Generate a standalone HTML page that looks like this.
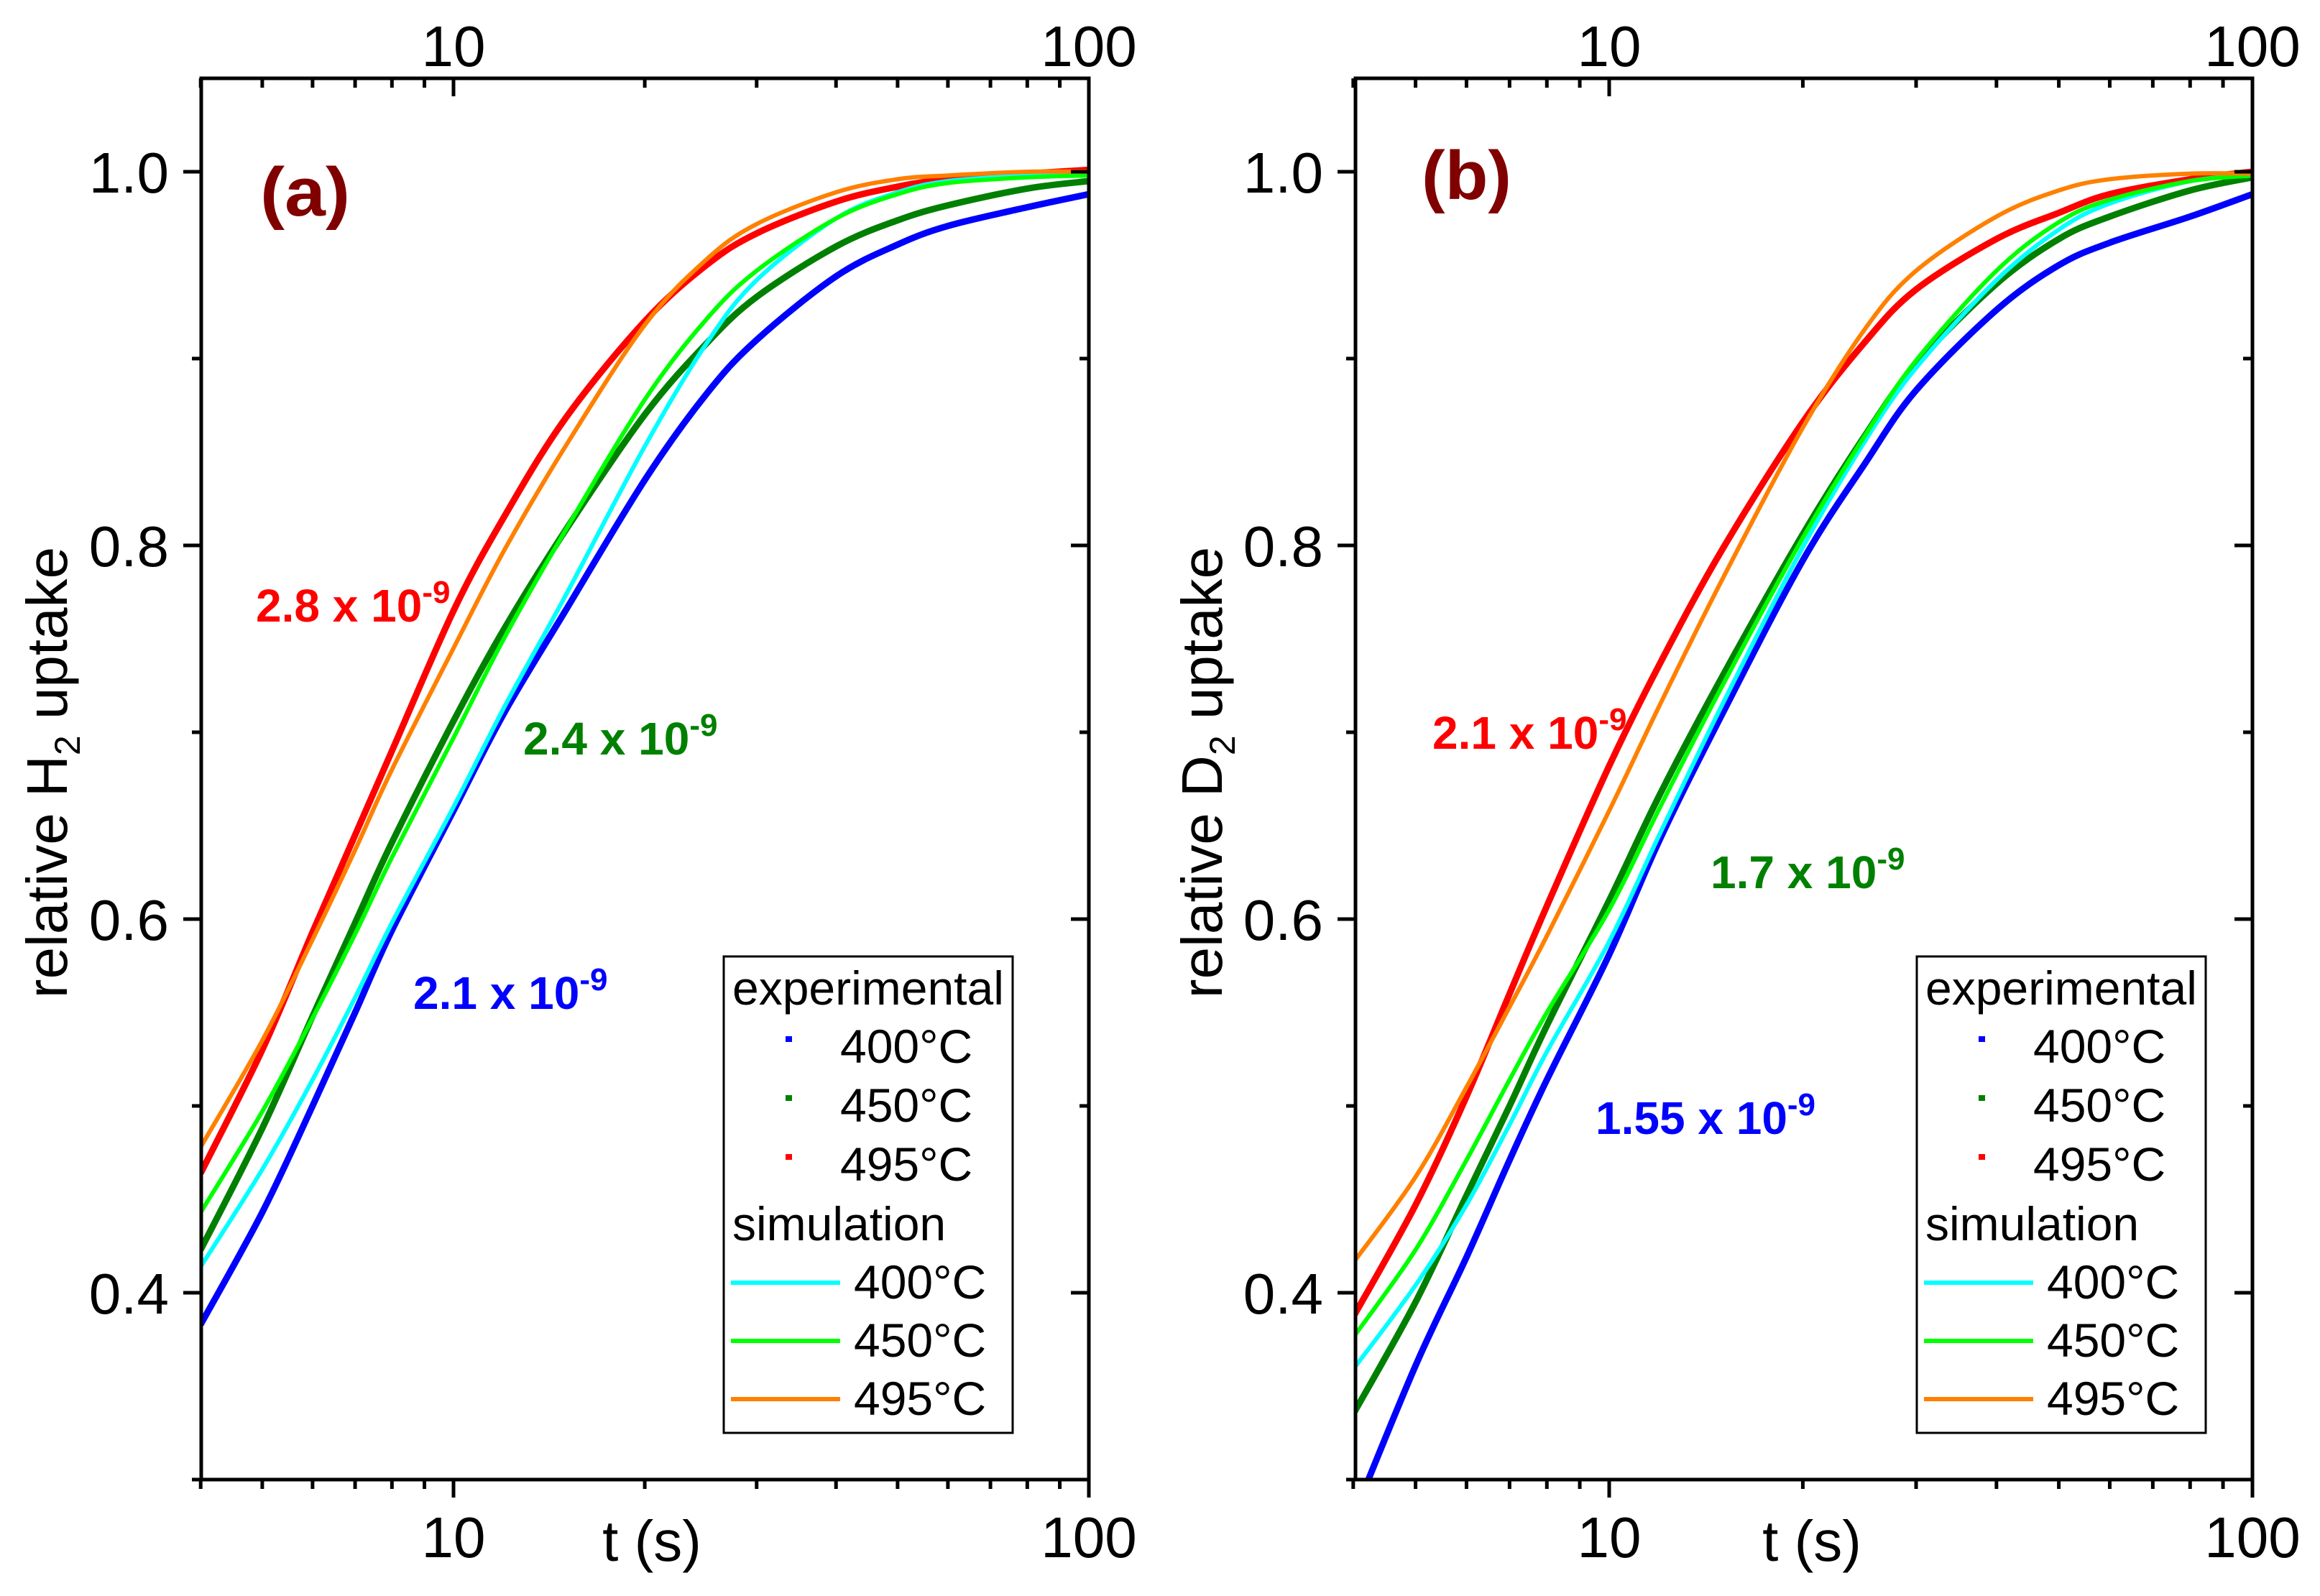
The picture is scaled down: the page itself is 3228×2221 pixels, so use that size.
<!DOCTYPE html>
<html><head><meta charset="utf-8"><style>
html,body{margin:0;padding:0;background:#fff;}
svg{display:block;font-family:"Liberation Sans",Arial,sans-serif;}
</style></head><body>
<svg id="fig" width="3228" height="2221" viewBox="0 0 3228 2221" xmlns="http://www.w3.org/2000/svg"></svg>
<script>
// ---- data ----
const tValues = [4,5,6,7,8,10,12,15,20,25,30,40,50,60,80,100];
// panel (a) H2
const aExp400 = [0.383,0.443,0.500,0.550,0.594,0.658,0.710,0.765,0.835,0.881,0.910,0.944,0.961,0.971,0.981,0.988];
const aExp450 = [0.423,0.488,0.548,0.598,0.641,0.706,0.755,0.808,0.870,0.908,0.933,0.960,0.974,0.982,0.991,0.995];
const aExp495 = [0.464,0.530,0.593,0.645,0.690,0.765,0.815,0.868,0.920,0.950,0.967,0.984,0.992,0.996,0.999,1.001];
const aSim400 = [0.414,0.466,0.514,0.558,0.598,0.660,0.713,0.773,0.853,0.908,0.942,0.975,0.989,0.995,0.998,0.999];
const aSim450 = [0.443,0.497,0.547,0.592,0.633,0.697,0.750,0.808,0.878,0.921,0.947,0.975,0.988,0.994,0.997,0.998];
const aSim495 = [0.478,0.535,0.589,0.637,0.680,0.745,0.797,0.853,0.918,0.953,0.972,0.989,0.996,0.998,1.000,1.000];
// panel (b) D2
const bExp400 = [0.280,0.361,0.419,0.471,0.514,0.581,0.643,0.710,0.792,0.844,0.883,0.926,0.950,0.962,0.976,0.988];
const bExp450 = [0.335,0.395,0.452,0.500,0.543,0.610,0.667,0.730,0.806,0.859,0.897,0.940,0.964,0.976,0.990,0.997];
const bExp495 = [0.387,0.447,0.505,0.560,0.607,0.682,0.737,0.798,0.866,0.909,0.937,0.964,0.978,0.988,0.996,1.000];
const bSim400 = [0.359,0.404,0.447,0.490,0.529,0.588,0.646,0.715,0.799,0.856,0.895,0.942,0.969,0.983,0.995,0.998];
const bSim450 = [0.376,0.423,0.471,0.514,0.550,0.605,0.660,0.725,0.804,0.859,0.899,0.947,0.973,0.985,0.995,0.998];
const bSim495 = [0.416,0.462,0.510,0.553,0.591,0.658,0.715,0.782,0.863,0.916,0.947,0.976,0.990,0.996,0.999,0.999];
const yTicks = [0.4,0.6,0.8,1.0];
const yTickLabels = ["0.4","0.6","0.8","1.0"];
const xTicks = [10,100];
const xTickLabels = ["10","100"];
const legendTemps = ["400°C","450°C","495°C"];

const NS="http://www.w3.org/2000/svg";
const svg=document.getElementById('fig');
function mk(tag,attrs,parent){const e=document.createElementNS(NS,tag);for(const k in attrs)e.setAttribute(k,attrs[k]);(parent||svg).appendChild(e);return e;}

const expCols=["#0000ff","#008000","#ff0000"];
const simCols=["#00ffff","#00ff00","#ff8000"];

function panel(P){
  const g=mk('g',{});
  
  
  const X=t=>P.x10+P.dec*Math.log10(t/10);
  const Y=v=>239+(1-v)*2600;
  const L=P.left,R=P.right,T=109,B=2059;
  const clipId='clip'+P.id;
  const cp=mk('clipPath',{id:clipId},g);mk('rect',{x:L,y:T,width:R-L,height:B-T},cp);
  function curve(vals,col,w,nm){
    const pts=tValues.map((t,i)=>[X(t),Y(vals[i])]);
    let d='M'+pts[0][0].toFixed(1)+','+pts[0][1].toFixed(1);
    for(let i=0;i<pts.length-1;i++){
      const p0=pts[Math.max(0,i-1)],p1=pts[i],p2=pts[i+1],p3=pts[Math.min(pts.length-1,i+2)];
      const c1=[p1[0]+(p2[0]-p0[0])/6,p1[1]+(p2[1]-p0[1])/6];
      const c2=[p2[0]-(p3[0]-p1[0])/6,p2[1]-(p3[1]-p1[1])/6];
      d+=' C'+c1.map(v=>v.toFixed(1)).join(',')+' '+c2.map(v=>v.toFixed(1)).join(',')+' '+p2.map(v=>v.toFixed(1)).join(',');
    }
    const p=mk('path',{d:d,fill:'none',stroke:col,'stroke-width':w,'clip-path':'url(#'+clipId+')'},g);
    
    
  }
  P.exp.forEach((s,i)=>curve(s,expCols[i],9,'exp-curve-'+legendTemps[i].slice(0,3)));
  P.sim.forEach((s,i)=>curve(s,simCols[i],6,'sim-curve-'+legendTemps[i].slice(0,3)));
  const fr=mk('rect',{x:L,y:T,width:R-L,height:B-T,fill:'none',stroke:'#000','stroke-width':5},g);
  
  
  for(let v=0.3;v<=1.001;v+=0.1){
    const major=yTicks.some(t=>Math.abs(t-v)<1e-6);
    const len=major?25:13;
    mk('line',{x1:L-len,y1:Y(v),x2:L,y2:Y(v),stroke:'#000','stroke-width':5},g);
    mk('line',{x1:R,y1:Y(v),x2:R-len,y2:Y(v),stroke:'#000','stroke-width':5},g);
  }
  yTicks.forEach((v,i)=>{
    const t=mk('text',{x:L-45,y:Y(v)+29,'font-size':80,'text-anchor':'end'},g);t.textContent=yTickLabels[i];
    
    
  });
  const minors=[4,5,6,7,8,9,20,30,40,50,60,70,80,90];
  minors.forEach(t=>{const x=X(t);
    mk('line',{x1:x,y1:B,x2:x,y2:B+13,stroke:'#000','stroke-width':5},g);
    mk('line',{x1:x,y1:T,x2:x,y2:T+13,stroke:'#000','stroke-width':5},g);});
  xTicks.forEach((tv,i)=>{const x=X(tv);
    mk('line',{x1:x,y1:B,x2:x,y2:B+25,stroke:'#000','stroke-width':5},g);
    mk('line',{x1:x,y1:T,x2:x,y2:T+25,stroke:'#000','stroke-width':5},g);
    const a=mk('text',{x:x,y:2167,'font-size':80,'text-anchor':'middle'},g);a.textContent=xTickLabels[i];
    
    
    const b=mk('text',{x:x,y:92,'font-size':80,'text-anchor':'middle'},g);b.textContent=xTickLabels[i];
    
    
  });
  const xt=mk('text',{x:P.xtitle,y:2172,'font-size':80,'text-anchor':'middle'},g);xt.textContent='t (s)';
  
  
  const yt=mk('text',{x:0,y:0,'font-size':80,'text-anchor':'middle',transform:'translate('+P.ytitleX+',1075) rotate(-90)'},g);
  
  
  yt.innerHTML='relative '+P.sp+'<tspan font-size="50" dy="18">2</tspan><tspan dy="-18"> uptake</tspan>';
  const pl=mk('text',{x:P.plx,y:P.ply,'font-size':96,'font-weight':'bold',fill:'#800000',textLength:125,lengthAdjust:'spacingAndGlyphs'},g);
  pl.textContent=P.label;
  
  
  P.ann.forEach(a=>{
    const t=mk('text',{x:a[0],y:a[1],'font-size':64,'font-weight':'bold',fill:a[3]},g);
    t.innerHTML=a[2]+' x 10<tspan font-size="44" dy="-26">-9</tspan>';
    
    
  });
  const lx=P.legX;
  const lg=mk('g',{},g);
  
  
  mk('rect',{x:lx,y:1331,width:402,height:663,fill:'#fff',stroke:'#000','stroke-width':3},lg);
  const h1=mk('text',{x:lx+12,y:1398,'font-size':66},lg);h1.textContent='experimental';
  
  
  const h2=mk('text',{x:lx+12,y:1726,'font-size':66},lg);h2.textContent='simulation';
  
  
  legendTemps.forEach((lab,i)=>{
    const yb=1479+i*82;
    const m=mk('rect',{x:lx+86,y:yb-37,width:9,height:8,fill:expCols[i]},lg);
    
    
    const t=mk('text',{x:lx+162,y:yb,'font-size':66},lg);t.textContent=lab;
    
    
    const ys=1807+i*81;
    const l=mk('line',{x1:lx+10,y1:ys-22,x2:lx+162,y2:ys-22,stroke:simCols[i],'stroke-width':6},lg);
    
    
    const t2=mk('text',{x:lx+181,y:ys,'font-size':66},lg);t2.textContent=lab;
    
    
  });
}

panel({id:'a',name:'panel-a-h2',left:280,right:1515,x10:631,dec:884,xtitle:907,ytitleX:93,sp:'H',
  plx:362,ply:300,label:'(a)',legX:1007,
  exp:[aExp400,aExp450,aExp495],sim:[aSim400,aSim450,aSim495],
  ann:[[356,865,'2.8','#ff0000'],[728,1050,'2.4','#008000'],[575,1404,'2.1','#0000ff']]});
panel({id:'b',name:'panel-b-d2',left:1886,right:3134,x10:2239,dec:895,xtitle:2521,ytitleX:1700,sp:'D',
  plx:1978,ply:277,label:'(b)',legX:2667,
  exp:[bExp400,bExp450,bExp495],sim:[bSim400,bSim450,bSim495],
  ann:[[1993,1042,'2.1','#ff0000'],[2380,1236,'1.7','#008000'],[2220,1578,'1.55','#0000ff']]});
</script>
</body></html>
